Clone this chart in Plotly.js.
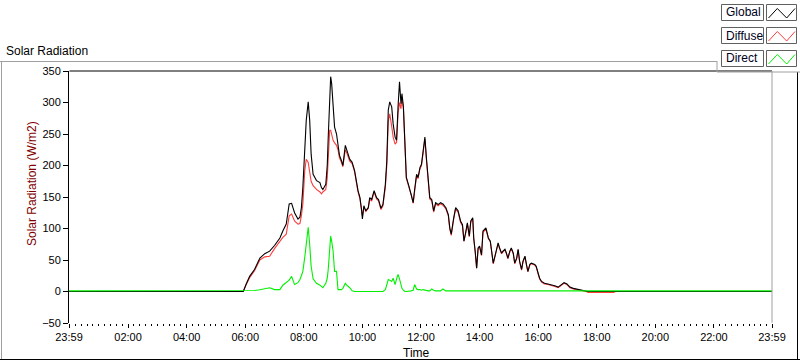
<!DOCTYPE html>
<html>
<head>
<meta charset="utf-8">
<script src="https://cdn.plot.ly/plotly-3.0.1.min.js"></script>
<style>html,body{margin:0;padding:0;background:#fff;}#chart{width:800px;height:361px;}</style>
</head>
<body>
<div id="chart"></div>
<script>
// time in minutes after midnight
const timeMin = [
  -1, 356, 362, 369, 379, 390, 400, 410, 420, 431,
  437, 444, 450, 455, 461, 468, 472, 475, 478, 482,
  485, 489, 492, 495, 499, 506, 513, 516, 519, 525,
  528, 530, 532, 533, 535, 537, 540, 543, 547, 550,
  553, 557, 560, 565, 568, 574, 579, 584, 591, 595,
  598, 600, 603, 607, 612, 615, 619, 624, 629, 633,
  638, 642, 647, 650, 653, 656, 660, 663, 667, 670,
  673, 676, 679, 681, 684, 687, 690, 695, 700, 704,
  707, 711, 714, 718, 721, 724, 728, 731, 735, 738,
  742, 746, 750, 755, 760, 765, 771, 776, 779, 782,
  787, 791, 796, 801, 805, 808, 812, 815, 819, 822,
  826, 828, 831, 834, 837, 840, 844, 847, 853, 858,
  862, 868, 873, 878, 881, 885, 888, 892, 895, 898,
  902, 905, 909, 912, 916, 919, 922, 926, 929, 933,
  936, 939, 943, 946, 953, 956, 960, 963, 967, 973,
  980, 987, 994, 1001, 1008, 1013, 1019, 1025, 1032, 1039,
  1049, 1059, 1062, 1115, 1118, 1439
];
const globalRad = [
  0, 0, 12, 24, 35, 53, 60, 64, 73, 85,
  96, 107, 139, 140, 125, 115, 118, 133, 165, 224,
  272, 301, 272, 218, 186, 176, 173, 165, 162, 170,
  200, 245, 290, 330, 341, 330, 298, 261, 250, 232,
  216, 208, 200, 232, 224, 210, 205, 192, 160, 149,
  131, 115, 136, 128, 133, 149, 146, 160, 149, 146,
  132, 138, 170, 208, 288, 301, 293, 266, 245, 240,
  293, 333, 298, 314, 293, 234, 181, 168, 155, 141,
  162, 186, 181, 197, 202, 224, 245, 213, 181, 149,
  146, 128, 141, 138, 141, 139, 133, 122, 101, 91,
  117, 133, 128, 112, 106, 80, 96, 109, 88, 112,
  117, 85, 64, 37, 69, 72, 58, 96, 101, 85,
  80, 45, 61, 77, 69, 61, 64, 67, 61, 53,
  64, 69, 61, 45, 53, 67, 48, 35, 48, 56,
  43, 32, 43, 45, 43, 40, 29, 21, 16, 13,
  12, 11, 9, 7, 11, 14, 12, 7, 5, 4,
  3, 1.5, 0, 0, 0, 0
];
const diffuseRad = [
  0, 0, 11, 22, 33, 50, 55, 56, 68, 80,
  86, 91, 120, 123, 112, 107, 108, 120, 139, 192,
  210, 205, 186, 175, 168, 162, 158, 155, 158, 162,
  180, 215, 240, 256, 256, 250, 240, 236, 232, 225,
  212, 205, 198, 225, 220, 207, 203, 190, 158, 147,
  130, 120, 134, 127, 132, 146, 144, 158, 147, 144,
  130, 136, 165, 200, 270, 282, 262, 245, 234, 237,
  282, 300, 290, 308, 290, 232, 180, 166, 154, 140,
  160, 184, 179, 195, 200, 221, 242, 210, 179, 147,
  144, 126, 139, 136, 139, 137, 131, 120, 99, 89,
  115, 131, 126, 110, 104, 80, 94, 107, 87, 110,
  115, 84, 63, 37, 68, 71, 57, 94, 99, 84,
  79, 44, 60, 76, 68, 60, 63, 66, 60, 52,
  63, 68, 60, 44, 52, 66, 47, 34, 47, 55,
  42, 31, 42, 44, 42, 39, 28, 20, 15, 12,
  11, 10, 8, 6, 10, 13, 11, 6, 4, 3,
  2, 0, -1.5, -1.5, 0, 0
];
const directRad = [
  1, 1, 1, 1, 1.5, 2.7, 4, 6, 3, 3,
  10, 15, 18, 24, 11, 14, 19, 25, 32, 55,
  80, 102, 75, 40, 20, 13, 10, 8, 6, 13,
  21, 35, 56, 75, 88, 80, 64, 32, 32, 3,
  3, 3, 5, 13, 10, 6, 1, 0, 0, 0,
  0, 0, 0, 0, 0, 0, 0, 0, 0, 0,
  0, 0, 3, 10, 19, 18, 16, 21, 11, 20,
  27, 20, 11, 5, 2, 0, 0, 0, 1, 2,
  11, 4, 3, 3, 2, 3, 2, 2, 1, 1,
  4, 2, 1, 1, 1, 4, 1, 1, 1, 1,
  1, 2, 1, 1, 2, 1, 1, 2, 1, 1,
  1, 1, 2, 1, 1, 1, 2, 1, 1, 1,
  1, 1, 1, 1, 1, 2, 1, 1, 1, 1,
  1, 1, 1, 1, 1, 1, 1, 1, 1, 1,
  1, 1, 1, 1, 1, 1, 1, 1, 1, 1,
  1, 1, 1, 1, 1, 1, 1, 1, 1, 1,
  1, 1, 1, 1, 1, 1
];
const xTickVals = [-1, 120, 240, 360, 480, 600, 720, 840, 960, 1080, 1200, 1320, 1439];
const xTickText = ['23:59', '02:00', '04:00', '06:00', '08:00', '10:00', '12:00', '14:00', '16:00', '18:00', '20:00', '22:00', '23:59'];
const seriesNames = ['Global', 'Diffuse', 'Direct'];
const seriesColors = ['#000000', '#ff3c3c', '#00f000'];

const W = 800, H = 361, ML = 69, MR = 28, MT = 71, MB = 38;
const PW = W - ML - MR, PH = H - MT - MB;
const px = x => (x - ML) / PW;
const py = y => (H - MB - y) / PH;
const FONT = 'Liberation Sans, Arial, sans-serif';

const traces = [
  {x: timeMin, y: diffuseRad, name: seriesNames[1], mode: 'lines', line: {color: seriesColors[1], width: 1.1}},
  {x: timeMin, y: globalRad, name: seriesNames[0], mode: 'lines', line: {color: seriesColors[0], width: 1.1}},
  {x: timeMin, y: directRad, name: seriesNames[2], mode: 'lines', line: {color: seriesColors[2], width: 1.1}}
];

const shapes = [];
const annotations = [];
function line(x0, y0, x1, y1, color, w) {
  shapes.push({type: 'line', xref: 'paper', yref: 'paper', x0: px(x0), y0: py(y0), x1: px(x1), y1: py(y1),
    line: {color: color, width: w || 1}});
}
// outer frame
line(0, 61.5, 717, 61.5, '#a0a0a0');
line(1.5, 61.5, 1.5, 360, '#a0a0a0');
line(0, 359.5, 800, 359.5, '#000000');
line(797.5, 72, 797.5, 360, '#000000');
// plot frame
line(69.5, 71, 772, 71, '#000000');
line(772, 71, 772, 322.7, '#a0a0a0');
// legend box
line(717, 61, 717, 72, '#a0a0a0');
line(717, 72, 800, 72, '#a0a0a0');
shapes.push({type: 'rect', xref: 'paper', yref: 'paper', x0: px(717.5), x1: px(800), y0: py(0), y1: py(71.5),
  fillcolor: '#ffffff', line: {width: 0}, layer: 'below'});

const legTop = [4, 27, 50];
const zig = ['#000000', '#ff4040', '#00e000'];
['Global', 'Diffuse', 'Direct'].forEach((name, i) => {
  const t = legTop[i], b = t + 17;
  shapes.push({type: 'rect', xref: 'paper', yref: 'paper', x0: px(721.5), x1: px(763.5), y0: py(t + 0.5), y1: py(b - 0.5),
    line: {color: '#606060', width: 1}, fillcolor: 'rgba(0,0,0,0)'});
  shapes.push({type: 'rect', xref: 'paper', yref: 'paper', x0: px(766.5), x1: px(796.5), y0: py(t + 0.5), y1: py(b - 0.5),
    line: {color: '#606060', width: 1}, fillcolor: 'rgba(0,0,0,0)'});
  const pts = [[768.5, b - 3], [777.3, t + 4.5], [786.7, b - 3], [795, t + 4.5]];
  const path = 'M' + pts.map(p => px(p[0]) + ',' + py(p[1])).join(' L');
  shapes.push({type: 'path', xref: 'paper', yref: 'paper', path: path, line: {color: seriesColors[i], width: 1}});
  annotations.push({xref: 'paper', yref: 'paper', x: px(723.5), y: py((t + b) / 2), xanchor: 'left', yanchor: 'middle',
    text: name, showarrow: false, font: {family: FONT, size: 12, color: '#000020'}});
});

annotations.push({xref: 'paper', yref: 'paper', x: px(4), y: py(51), xanchor: 'left', yanchor: 'middle',
  text: 'Solar Radiation', showarrow: false, font: {family: FONT, size: 12, color: '#000000'}});
annotations.push({xref: 'paper', yref: 'paper', x: px(32), y: py(184), xanchor: 'center', yanchor: 'middle',
  text: 'Solar Radiation (W/m2)', textangle: -90, showarrow: false, font: {family: FONT, size: 12, color: '#800000'}});
annotations.push({xref: 'paper', yref: 'paper', x: px(416), y: py(353), xanchor: 'center', yanchor: 'middle',
  text: 'Time', showarrow: false, font: {family: FONT, size: 12, color: '#000000'}});

const layout = {
  width: W, height: H,
  margin: {l: ML, r: MR, t: MT, b: MB, pad: 0},
  paper_bgcolor: '#ffffff', plot_bgcolor: '#ffffff',
  showlegend: false,
  font: {family: FONT, size: 11, color: '#000000'},
  xaxis: {
    range: [-1, 1439], tickmode: 'array', tickvals: xTickVals, ticktext: xTickText,
    ticks: 'outside', ticklen: 4, tickwidth: 1, tickcolor: '#000000',
    minor: {tickmode: 'linear', tick0: 0, dtick: 12, ticks: 'outside', ticklen: 2, tickcolor: '#000000', showgrid: false},
    showgrid: false, zeroline: false, showline: false,
    tickfont: {family: FONT, size: 11, color: '#000000'}
  },
  yaxis: {
    range: [-50, 350], tickmode: 'linear', tick0: -50, dtick: 50,
    ticks: 'outside', ticklen: 5, tickwidth: 1, tickcolor: '#000000',
    showgrid: false, zeroline: false, showline: true, linecolor: '#000000', linewidth: 1,
    tickfont: {family: FONT, size: 11, color: '#000000'}
  },
  shapes: shapes,
  annotations: annotations
};

Plotly.newPlot('chart', traces, layout, {staticPlot: true, displayModeBar: false});
</script>
</body>
</html>
